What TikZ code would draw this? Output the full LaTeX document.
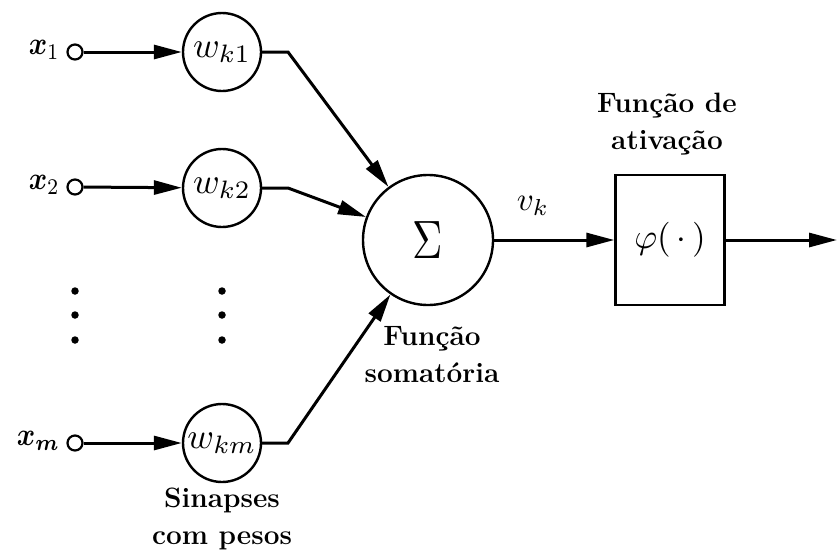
\documentclass[tikz,border=0pt]{standalone}
\usepackage{amsmath}
\usepackage{graphicx}
\usepackage{fontspec}
\usetikzlibrary{arrows.meta}
\newcommand{\mbig}[3]{\scalebox{#1}[#2]{$#3$}}
\begin{document}
\begin{tikzpicture}[x=1pt,y=-1pt,
  inp/.style={circle,draw,line width=2.2pt,minimum size=15pt,inner sep=0pt},
  wnode/.style={circle,draw,line width=2.4pt,minimum size=78pt,inner sep=0pt},
  sumnode/.style={circle,draw,line width=2.4pt,minimum size=130pt,inner sep=0pt},
  actbox/.style={rectangle,draw,line width=2.4pt,minimum width=109pt,minimum height=130pt,inner sep=0pt},
  conn/.style={line width=3pt,-{Triangle[length=28pt,width=14pt]}},
  txt/.style={font=\fontsize{28}{37}\selectfont\bfseries,align=center},
  xlab/.style={anchor=east,inner sep=0pt},
  dotmark/.style={circle,fill,minimum size=7.5pt,inner sep=0pt}]
\useasboundingbox (0,0) rectangle (837,557);
% input terminals
\node[inp] (i1) at (75,52) {};
\node[inp] (i2) at (75,187) {};
\node[inp] (im) at (75,443) {};
\node[xlab] (xl1) at (60,50) {\mbig{2.8}{3.2}{\boldsymbol{x}_1}};
\node[xlab] (xl2) at (60,185) {\mbig{2.8}{3.2}{\boldsymbol{x}_2}};
\node[xlab] (xlm) at (60,441) {\mbig{2.8}{3.2}{\boldsymbol{x}_{\boldsymbol{m}}}};
% weights
\node[wnode] (w1) at (222,52) {\mbig{3.6}{3.6}{w_{k1}}};
\node[wnode] (w2) at (222,188) {\mbig{3.6}{3.6}{w_{k2}}};
\node[wnode] (wm) at (222,443) {\mbig{3.6}{3.6}{w_{km}}};
% dots
\node[dotmark] (d1) at (75,291) {};
\node[dotmark] (d2) at (75,315) {};
\node[dotmark] (d3) at (75,340) {};
\node[dotmark] (d4) at (222,291) {};
\node[dotmark] (d5) at (222,315) {};
\node[dotmark] (d6) at (222,340) {};
% summation and activation
\node[sumnode] (s) at (428,240) {\mbig{4.2}{5.4}{\Sigma}};
\node[actbox] (phi) at (670,240) {\mbig{3.5}{3.5}{\varphi(\,\cdot\,)}};
\coordinate (out) at (837,240);
\coordinate (b1) at (288,52);
\coordinate (b2) at (288,188);
\coordinate (bm) at (288,443);
% connectors
\draw[conn] (i1) -- (w1);
\draw[conn] (i2) -- (w2);
\draw[conn] (im) -- (wm);
\draw[conn] (w1.east) -- (b1) -- (s);
\draw[conn] (w2.east) -- (b2) -- (s);
\draw[conn] (wm.east) -- (bm) -- (s);
\draw[conn] (s) -- (phi);
\draw[conn] (phi) -- (out);
% labels
\node (vk) at (533,206) {\mbig{3.3}{3.3}{v_k}};
\node[txt] (tact) at (667,124) {Função de\\ativação};
\node[txt] (tsum) at (432,355) {Função\\somatória};
\node[txt] (tsyn) at (222,519) {Sinapses\\com pesos};
\end{tikzpicture}
\end{document}
